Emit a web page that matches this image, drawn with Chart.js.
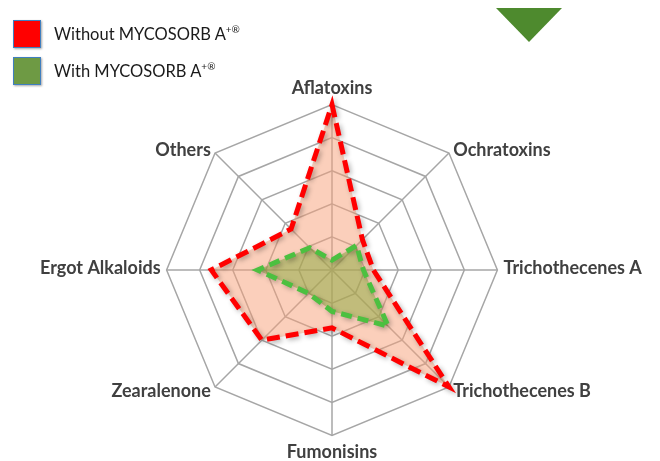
<!DOCTYPE html>
<html>
<head>
<meta charset="utf-8">
<script src="https://cdn.jsdelivr.net/npm/chart.js@4.4.0/dist/chart.umd.min.js"></script>
<style>
  html, body { margin: 0; padding: 0; background: #fff; }
  #wrap { position: relative; width: 660px; height: 461px; overflow: hidden; }
  #myChart { position: absolute; left: 0; top: 0; }
  .legend { position: absolute; left: 13px; top: 15px; font-family: Lato, sans-serif; font-size: 16.5px; color: #1a1a1a; }
  .legend .row { display: flex; align-items: center; height: 37px; }
  .legend .box { width: 26px; height: 26px; border: 1.5px solid #3f7fc0; box-shadow: 1px 1px 2px rgba(0,0,0,0.35); margin-right: 13px; }
  .legend sup { font-size: 10px; vertical-align: 7px; }
  .tri { position: absolute; left: 496px; top: 8px; width: 0; height: 0;
         border-left: 33px solid transparent; border-right: 33px solid transparent; border-top: 34px solid #4e8a2e; }
</style>
</head>
<body>
<div id="wrap">
  <canvas id="myChart" width="660" height="464"></canvas>
  <div class="legend">
    <div class="row"><div class="box" style="background:#ff0000"></div><span>Without MYCOSORB A<sup>+®</sup></span></div>
    <div class="row"><div class="box" style="background:#6e9a44"></div><span>With MYCOSORB A<sup>+®</sup></span></div>
  </div>
  <div class="tri"></div>
</div>
<script>
    // data
    const categories = ['Aflatoxins', 'Ochratoxins', 'Trichothecenes A', 'Trichothecenes B',
                        'Fumonisins', 'Zearalenone', 'Ergot Alkaloids', 'Others'];
    const withoutMycosorb = [5, 1.3, 1.25, 5, 1.75, 3.0, 3.65, 1.75];
    const withMycosorb = [0.3, 1.05, 0.95, 2.4, 1.25, 1.0, 2.25, 0.95];

    // soft shadow under the series, like the original
    const shadowPlugin = {
      id: 'shadow',
      beforeDatasetDraw(chart) {
        const ctx = chart.ctx;
        ctx.save();
        ctx.shadowColor = 'rgba(0,0,0,0.3)';
        ctx.shadowBlur = 5;
        ctx.shadowOffsetX = 2;
        ctx.shadowOffsetY = 2;
      },
      afterDatasetDraw(chart) {
        chart.ctx.restore();
      }
    };

    // side labels sit about level with their spoke end, not above/below it
    const labelCenterPlugin = {
      id: 'labelCenter',
      afterUpdate(chart) {
        const scale = chart.scales.r;
        const items = scale._pointLabelItems || [];
        items.forEach((item, i) => {
          if (item.textAlign === 'center') return;
          const p = scale.getPointPosition(i, scale.drawingArea);
          const h = item.bottom - item.top;
          let mid = p.y - 2;
          if (p.y > scale.yCenter + 5) mid = p.y + 4;
          else if (p.y < scale.yCenter - 5) mid = p.y - 3;
          const dy = (mid - h / 2) - item.top;
          item.y += dy; item.top += dy; item.bottom += dy;
        });
      }
    };

    const data = {
      labels: categories,
      datasets: [{
        label: 'Without MYCOSORB A+®',
        data: withoutMycosorb,
        backgroundColor: 'rgba(248,160,120,0.5)',
        borderColor: '#ff0000',
        borderWidth: 5,
        borderDash: [13, 6],
        borderCapStyle: 'butt',
        borderJoinStyle: 'miter',
        pointRadius: 0,
        fill: true,
        order: 1
      },
      {
        label: 'With MYCOSORB A+®',
        data: withMycosorb,
        backgroundColor: 'rgba(135,170,60,0.5)',
        borderColor: '#4cc040',
        borderWidth: 5,
        borderDash: [11, 6],
        borderCapStyle: 'butt',
        borderJoinStyle: 'miter',
        pointRadius: 0,
        fill: true,
        order: 0
      }]
    };

    const config = {
      type: 'radar',
      data,
      plugins: [shadowPlugin, labelCenterPlugin],
      options: {
        responsive: false,
        animation: false,
        layout: { padding: { top: 77, bottom: 0, left: 22, right: 0 } },
        plugins: {
          legend: { display: false },
          tooltip: { enabled: false }
        },
        scales: {
          r: {
            min: 0,
            max: 5,
            ticks: { stepSize: 1, display: false },
            grid: { color: '#a6a6a6', lineWidth: 1.5 },
            angleLines: { color: '#a6a6a6', lineWidth: 1.5 },
            pointLabels: {
              color: '#404040',
              padding: 6,
              font: { family: 'Lato', size: 18, weight: 'bold' }
            }
          }
        }
      }
    };

    const myChart = new Chart(document.getElementById('myChart'), config);
</script>
</body>
</html>
